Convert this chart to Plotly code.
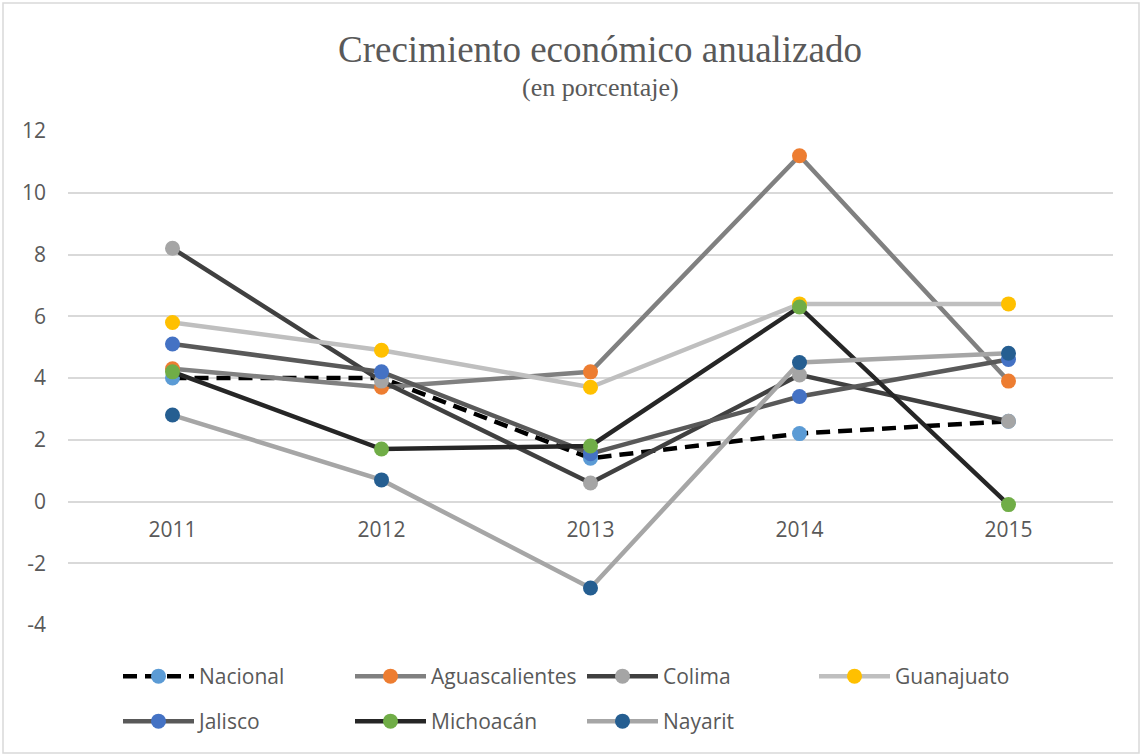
import plotly.graph_objects as go

years = ["2011", "2012", "2013", "2014", "2015"]
nacional = [4.0, 4.0, 1.4, 2.2, 2.6]
aguascalientes = [4.3, 3.7, 4.2, 11.2, 3.9]
colima = [8.2, 3.9, 0.6, 4.1, 2.6]
guanajuato = [5.8, 4.9, 3.7, 6.4, 6.4]
jalisco = [5.1, 4.2, 1.55, 3.4, 4.6]
michoacan = [4.2, 1.7, 1.8, 6.3, -0.1]
nayarit = [2.8, 0.7, -2.8, 4.5, 4.8]

y_tickvals = [-4, -2, 0, 2, 4, 6, 8, 10, 12]
y_ticktext = ["-4", "-2", "0", "2", "4", "6", "8", "10", "12"]

series = [
    ("Nacional", nacional, "#000000", "#5B9BD5", "14px,8px", "legend"),
    ("Aguascalientes", aguascalientes, "#808080", "#ED7D31", "solid", "legend"),
    ("Colima", colima, "#404040", "#A5A5A5", "solid", "legend"),
    ("Guanajuato", guanajuato, "#BFBFBF", "#FFC000", "solid", "legend"),
    ("Jalisco", jalisco, "#595959", "#4472C4", "solid", "legend2"),
    ("Michoacán", michoacan, "#262626", "#70AD47", "solid", "legend2"),
    ("Nayarit", nayarit, "#A6A6A6", "#255E91", "solid", "legend2"),
]

fig = go.Figure()
for name, vals, lc, mc, dash, lg in series:
    fig.add_trace(go.Scatter(
        x=years, y=vals, name=name, mode="lines+markers",
        line=dict(color=lc, width=4.5, dash=dash),
        marker=dict(color=mc, size=15, line=dict(width=0)),
        legend=lg,
    ))

W, H = 1143, 756
L, R, T, B = 68, 30, 131, 131
pw, ph = W - L - R, H - T - B

def px(xp):
    return (xp - L) / pw

def py(yp):
    return (H - B - yp) / ph

tick_font = dict(family="Open Sans", size=21, color="#595959")
leg_font = dict(family="Open Sans", size=21, color="#595959")

fig.update_layout(
    width=W, height=H,
    margin=dict(l=L, r=R, t=T, b=B),
    paper_bgcolor="white", plot_bgcolor="white",
    font=tick_font,
    showlegend=True,
    xaxis=dict(
        type="category", range=[-0.5, 4.5], showgrid=False, zeroline=False,
        showline=False, ticks="", anchor="free", position=0.25,
        ticklabelstandoff=13, tickfont=tick_font,
    ),
    yaxis=dict(
        range=[-4, 12], tickmode="array", tickvals=y_tickvals, ticktext=y_ticktext,
        showgrid=True, gridcolor="#D9D9D9",
        gridwidth=1.5, zeroline=True, zerolinecolor="#D9D9D9", zerolinewidth=1.5,
        showline=False, ticks="", ticklabelstandoff=21, tickfont=tick_font,
    ),
    legend=dict(
        orientation="h", x=px(118), y=py(656), xanchor="left", yanchor="top",
        entrywidth=146, entrywidthmode="pixels", itemwidth=71,
        font=leg_font, bgcolor="rgba(0,0,0,0)",
    ),
    legend2=dict(
        orientation="h", x=px(118), y=py(701), xanchor="left", yanchor="top",
        entrywidth=146, entrywidthmode="pixels", itemwidth=71,
        font=leg_font, bgcolor="rgba(0,0,0,0)",
    ),
    annotations=[
        dict(text="Crecimiento económico anualizado", xref="paper", yref="paper",
             x=px(600), y=py(50), xanchor="center", yanchor="middle", showarrow=False,
             font=dict(family="Liberation Serif", size=37, color="#595959")),
        dict(text="(en porcentaje)", xref="paper", yref="paper",
             x=px(600), y=py(88), xanchor="center", yanchor="middle", showarrow=False,
             font=dict(family="Liberation Serif", size=26, color="#595959")),
    ],
    shapes=[
        dict(type="rect", xref="paper", yref="paper", x0=px(3), x1=px(1139),
             y0=py(753), y1=py(3), line=dict(color="#D9D9D9", width=1.5),
             fillcolor="rgba(0,0,0,0)", layer="below"),
    ],
)

fig.write_html(
    "out.html",
    config={"displayModeBar": False},
    post_script="document.body.style.margin='0';document.body.style.overflow='hidden';",
)
